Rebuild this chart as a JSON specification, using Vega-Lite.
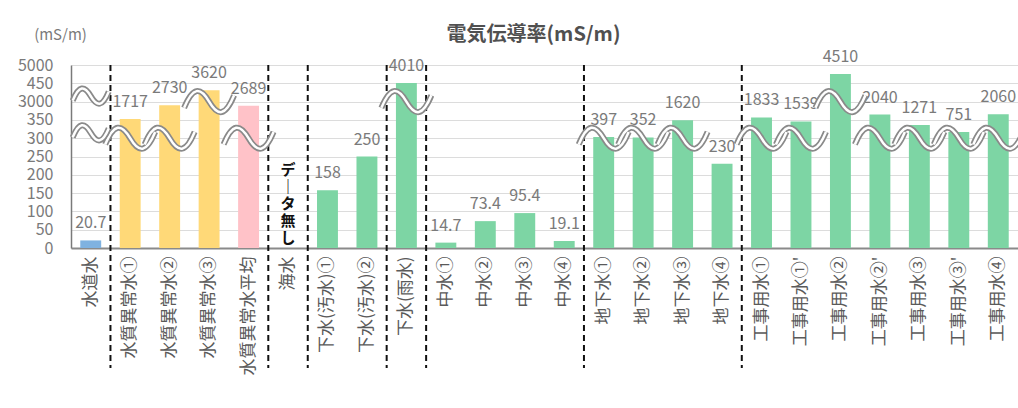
{
  "$schema": "https://vega.github.io/schema/vega-lite/v6.json",
  "autosize": {"type": "none"},
  "width": 947,
  "height": 183,
  "padding": {"left": 71, "top": 65, "right": 0, "bottom": 160},
  "background": "white",
  "config": {"view": {"stroke": null}, "font": "Noto Sans CJK JP"},
  "title": {"text": "電気伝導率(mS/m)", "fontSize": 20, "fontWeight": "bold", "color": "#505050", "anchor": "middle", "offset": -18, "dx": -11, "font": "Noto Sans CJK JP"},
  "datasets": {
    "main": [
      {"name": "水道水", "value": 20.7, "grp": "水道水"},
      {"name": "水質異常水①", "value": 1717, "grp": "水質異常水"},
      {"name": "水質異常水②", "value": 2730, "grp": "水質異常水"},
      {"name": "水質異常水③", "value": 3620, "grp": "水質異常水"},
      {"name": "水質異常水平均", "value": 2689, "grp": "水質異常水平均"},
      {"name": "海水", "value": null, "grp": "海水", "note": "デ\n｜\nタ\n無\nし"},
      {"name": "下水(汚水)①", "value": 158, "grp": "下水"},
      {"name": "下水(汚水)②", "value": 250, "grp": "下水"},
      {"name": "下水(雨水)", "value": 4010, "grp": "下水"},
      {"name": "中水①", "value": 14.7, "grp": "中水"},
      {"name": "中水②", "value": 73.4, "grp": "中水"},
      {"name": "中水③", "value": 95.4, "grp": "中水"},
      {"name": "中水④", "value": 19.1, "grp": "中水"},
      {"name": "地下水①", "value": 397, "grp": "地下水"},
      {"name": "地下水②", "value": 352, "grp": "地下水"},
      {"name": "地下水③", "value": 1620, "grp": "地下水"},
      {"name": "地下水④", "value": 230, "grp": "地下水"},
      {"name": "工事用水①", "value": 1833, "grp": "工事用水"},
      {"name": "工事用水①'", "value": 1539, "grp": "工事用水"},
      {"name": "工事用水②", "value": 4510, "grp": "工事用水"},
      {"name": "工事用水②'", "value": 2040, "grp": "工事用水"},
      {"name": "工事用水③", "value": 1271, "grp": "工事用水"},
      {"name": "工事用水③'", "value": 751, "grp": "工事用水"},
      {"name": "工事用水④", "value": 2060, "grp": "工事用水"}
    ],
    "sep": [
      {"name": "水質異常水①"}, {"name": "海水"}, {"name": "下水(汚水)①"}, {"name": "下水(雨水)"},
      {"name": "中水①"}, {"name": "地下水①"}, {"name": "工事用水①"}
    ]
  },
  "layer": [
    {
      "data": {"name": "main"},
      "mark": {"type": "bar", "width": {"band": 0.53}},
      "encoding": {
        "x": {"field": "name", "type": "nominal", "sort": null,
          "scale": {"paddingInner": 0, "paddingOuter": 0,
            "domain": ["水道水","水質異常水①","水質異常水②","水質異常水③","水質異常水平均","海水","下水(汚水)①","下水(汚水)②","下水(雨水)","中水①","中水②","中水③","中水④","地下水①","地下水②","地下水③","地下水④","工事用水①","工事用水①'","工事用水②","工事用水②'","工事用水③","工事用水③'","工事用水④"]},
          "axis": {"title": null, "labelAngle": -90, "labelFontSize": 17, "labelColor": "#5a5a5a", "labelPadding": 8, "ticks": false, "domainColor": "#8a8a8a", "domainWidth": 2, "grid": false, "labelLimit": 300, "labelFont": "Noto Sans CJK JP", "labelOverlap": false}},
        "y": {"field": "value", "type": "quantitative",
          "scale": {"domain": [0, 300, 3000, 4000, 5000], "range": [183, 73.2, 36.6, 18.3, 0], "nice": false, "zero": false},
          "axis": {"values": [0, 50, 100, 150, 200, 250, 300, 1650, 3000, 4000, 5000], "tickCount": 30, "format": "d",
            "labelExpr": "datum.value == 1650 ? '350' : (datum.value == 4000 ? '450' : datum.label)",
            "labelOverlap": false,
            "ticks": false, "labelPadding": 18, "labelFontSize": 16, "labelColor": "#7a7a7a", "labelFont": "Noto Sans CJK JP",
            "domainColor": "#7a7a7a", "domainWidth": 1.5, "grid": true, "gridColor": "#dcdcdc",
            "title": "(mS/m)", "titleAngle": 0, "titleX": -11, "titleY": -31, "titleAlign": "center", "titleBaseline": "middle",
            "titleFontSize": 15, "titleFontWeight": "normal", "titleColor": "#7a7a7a", "titleFont": "Noto Sans CJK JP"}},
        "color": {"field": "grp", "type": "nominal", "legend": null,
          "scale": {"domain": ["水道水","水質異常水","水質異常水平均","海水","下水","中水","地下水","工事用水"],
            "range": ["#7fb2e0","#ffd978","#ffc2c8","#7dd5a4","#7dd5a4","#7dd5a4","#7dd5a4","#7dd5a4"]}}
      }
    },
    {
      "data": {"name": "main"},
      "transform": [{"filter": "isValid(datum.value)"}],
      "mark": {"type": "text", "dy": -17, "baseline": "middle", "fontSize": 16, "color": "#7a7a7a"},
      "encoding": {
        "x": {"field": "name", "type": "nominal", "sort": null},
        "y": {"field": "value", "type": "quantitative"},
        "text": {"field": "value", "type": "quantitative", "format": "~g"}
      }
    },
    {
      "data": {"name": "main"},
      "transform": [{"filter": "isValid(datum.note)"}],
      "mark": {"type": "text", "lineBreak": "\n", "baseline": "top", "fontSize": 15, "fontWeight": "bold", "color": "#111111", "lineHeight": 17, "font": "Noto Sans CJK JP"},
      "encoding": {
        "x": {"field": "name", "type": "nominal", "sort": null},
        "y": {"datum": 232, "type": "quantitative"},
        "text": {"field": "note", "type": "nominal"}
      }
    },
    {
      "data": {"name": "sep"},
      "mark": {"type": "rule", "strokeDash": [6, 4], "strokeWidth": 2, "color": "#111111", "y2Offset": 120},
      "encoding": {
        "x": {"field": "name", "type": "nominal", "sort": null, "bandPosition": 0},
        "y": {"datum": 5000, "type": "quantitative"},
        "y2": {"datum": 0}
      }
    },
    {
      "data": {"name": "main"},
      "transform": [{"filter": "datum.value > 300 && datum.value < 3000"}],
      "mark": {"type": "point", "shape": "M-1,0.25 C-0.65,-0.6 -0.35,-0.6 0,0 C0.35,0.6 0.65,0.6 1,-0.25", "size": 2500, "filled": false, "stroke": "#8a8a8a", "strokeWidth": 6, "opacity": 1, "dx": 3},
      "encoding": {"x": {"field": "name", "type": "nominal", "sort": null}, "y": {"datum": 300, "type": "quantitative"}}
    },
    {
      "data": {"name": "main"},
      "transform": [{"filter": "datum.value > 300 && datum.value < 3000"}],
      "mark": {"type": "point", "shape": "M-1,0.25 C-0.65,-0.6 -0.35,-0.6 0,0 C0.35,0.6 0.65,0.6 1,-0.25", "size": 2500, "filled": false, "stroke": "white", "strokeWidth": 2.5, "opacity": 1, "dx": 3},
      "encoding": {"x": {"field": "name", "type": "nominal", "sort": null}, "y": {"datum": 300, "type": "quantitative"}}
    },
    {
      "data": {"name": "main"},
      "transform": [{"filter": "datum.value >= 3000"}],
      "mark": {"type": "point", "shape": "M-1,0.25 C-0.65,-0.6 -0.35,-0.6 0,0 C0.35,0.6 0.65,0.6 1,-0.25", "size": 2500, "filled": false, "stroke": "#8a8a8a", "strokeWidth": 6, "opacity": 1, "dx": 3},
      "encoding": {"x": {"field": "name", "type": "nominal", "sort": null}, "y": {"datum": 3000, "type": "quantitative"}}
    },
    {
      "data": {"name": "main"},
      "transform": [{"filter": "datum.value >= 3000"}],
      "mark": {"type": "point", "shape": "M-1,0.25 C-0.65,-0.6 -0.35,-0.6 0,0 C0.35,0.6 0.65,0.6 1,-0.25", "size": 2500, "filled": false, "stroke": "white", "strokeWidth": 2.5, "opacity": 1, "dx": 3},
      "encoding": {"x": {"field": "name", "type": "nominal", "sort": null}, "y": {"datum": 3000, "type": "quantitative"}}
    },
    {
      "data": {"values": [{}]},
      "mark": {"type": "point", "shape": "M-1,0.25 C-0.65,-0.6 -0.35,-0.6 0,0 C0.35,0.6 0.65,0.6 1,-0.25", "size": 1300, "filled": false, "stroke": "#8a8a8a", "strokeWidth": 6, "opacity": 1, "dx": -25},
      "encoding": {"x": {"datum": "水道水"}, "y": {"datum": 700, "type": "quantitative"}}
    },
    {
      "data": {"values": [{}]},
      "mark": {"type": "point", "shape": "M-1,0.25 C-0.65,-0.6 -0.35,-0.6 0,0 C0.35,0.6 0.65,0.6 1,-0.25", "size": 1300, "filled": false, "stroke": "white", "strokeWidth": 2.5, "opacity": 1, "dx": -25},
      "encoding": {"x": {"datum": "水道水"}, "y": {"datum": 700, "type": "quantitative"}}
    },
    {
      "data": {"values": [{}]},
      "mark": {"type": "point", "shape": "M-1,0.25 C-0.65,-0.6 -0.35,-0.6 0,0 C0.35,0.6 0.65,0.6 1,-0.25", "size": 1300, "filled": false, "stroke": "#8a8a8a", "strokeWidth": 6, "opacity": 1, "dx": -25},
      "encoding": {"x": {"datum": "水道水"}, "y": {"datum": 3300, "type": "quantitative"}}
    },
    {
      "data": {"values": [{}]},
      "mark": {"type": "point", "shape": "M-1,0.25 C-0.65,-0.6 -0.35,-0.6 0,0 C0.35,0.6 0.65,0.6 1,-0.25", "size": 1300, "filled": false, "stroke": "white", "strokeWidth": 2.5, "opacity": 1, "dx": -25},
      "encoding": {"x": {"datum": "水道水"}, "y": {"datum": 3300, "type": "quantitative"}}
    }
  ]
}
